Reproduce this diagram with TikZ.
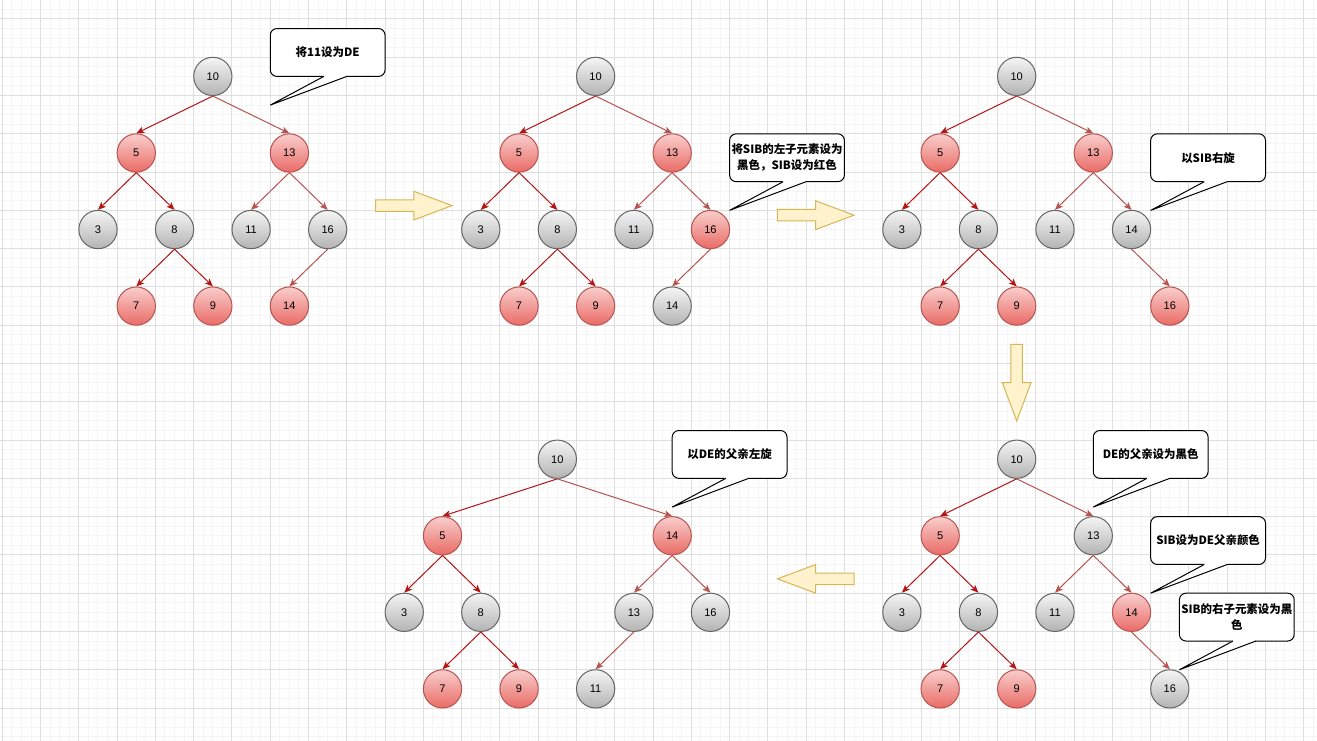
\documentclass[tikz,border=0pt]{standalone}
\usepackage{fontspec}
\setmainfont{Liberation Sans}
\newfontfamily\cjk{Noto Sans CJK SC}
\usetikzlibrary{arrows.meta}
\definecolor{redtop}{HTML}{F8CECC}
\definecolor{redbot}{HTML}{EA6B66}
\definecolor{redline}{HTML}{B85450}
\definecolor{graytop}{HTML}{F5F5F5}
\definecolor{graybot}{HTML}{B3B3B3}
\definecolor{grayline}{HTML}{666666}
\definecolor{darkedge}{RGB}{180,20,20}
\definecolor{arrfill}{HTML}{FFF2CC}
\definecolor{arrline}{HTML}{D6B656}
\definecolor{gridminor}{HTML}{F5F5F5}
\definecolor{gridmajor}{HTML}{DFDFDF}
\tikzset{
  rb/.style={circle, draw=redline, top color=redtop, bottom color=redbot, minimum size=28.7pt, inner sep=0pt, line width=0.75pt, font=\fontsize{8.3}{10}\selectfont},
  gb/.style={circle, draw=grayline, top color=graytop, bottom color=graybot, minimum size=28.7pt, inner sep=0pt, line width=0.75pt, font=\fontsize{8.3}{10}\selectfont},
  de/.style={draw=darkedge, line width=0.75pt, -{Stealth[length=6pt,width=5pt,inset=1.5pt]}},
  le/.style={draw=redline, line width=0.75pt, -{Stealth[length=6pt,width=5pt,inset=1.5pt]}},
  callbox/.style={draw=black, fill=white, line width=0.75pt, rounded corners=5pt},
  callline/.style={draw=black, line width=0.75pt},
  calltext/.style={font=\cjk\bfseries\fontsize{8.6}{11.8}\selectfont, align=center, inner sep=0pt},
  blockarrow/.style={draw=arrline, fill=arrfill, line width=0.75pt},
  minorgrid/.style={draw=gridminor, line width=0.75pt},
  majorgrid/.style={draw=gridmajor, line width=0.75pt}
}
\newcommand{\mycallout}[4]{%
  \draw[callbox] (#1,#2) rectangle ({#1+120},{#2+50});
  \fill[white] ({#1+56.5},{#2+48.5}) rectangle ({#1+79.5},{#2+51.5});
  \fill[white] ({#1+56},{#2+49.5}) -- (#1,{#2+80}) -- ({#1+80},{#2+49.5}) -- cycle;
  \coordinate (#3tip) at (#1,{#2+80});
  \draw[callline] ({#1+56},{#2+50}) -- (#3tip) -- ({#1+80},{#2+50});
  \node[calltext] (#3) at ({#1+60},{#2+25}) {#4};
}
\begin{document}
\begin{tikzpicture}[x=0.71775pt,y=-0.71775pt]
\useasboundingbox (-2.4,-19.85) rectangle (1373.8,754.45);
\fill[white] (-2.4,-19.85) rectangle (1373.8,754.45);
% grid
\foreach \i in {0,10,...,1370} \draw[minorgrid] (\i,-20) -- (\i,755);
\foreach \j in {-10,0,...,750} \draw[minorgrid] (-3,\j) -- (1374,\j);
\foreach \i in {0,40,...,1360} \draw[majorgrid] (\i,-20) -- (\i,755);
\foreach \j in {0,40,...,720} \draw[majorgrid] (-3,\j) -- (1374,\j);

% ---------- tree 1 ----------
\node[gb] (t1a) at (220,60) {10};
\node[rb] (t1b) at (140,140) {5};
\node[rb] (t1c) at (300,140) {13};
\node[gb] (t1d) at (100,220) {3};
\node[gb] (t1e) at (180,220) {8};
\node[gb] (t1f) at (260,220) {11};
\node[gb] (t1g) at (340,220) {16};
\node[rb] (t1h) at (140,300) {7};
\node[rb] (t1i) at (220,300) {9};
\node[rb] (t1j) at (300,300) {14};
\draw[de] (t1a.south) -- (t1b.north);
\draw[le] (t1a.south) -- (t1c.north);
\draw[de] (t1b.south) -- (t1d.north);
\draw[de] (t1b.south) -- (t1e.north);
\draw[le] (t1c.south) -- (t1f.north);
\draw[le] (t1c.south) -- (t1g.north);
\draw[de] (t1e.south) -- (t1h.north);
\draw[de] (t1e.south) -- (t1i.north);
\draw[le] (t1g.south) -- (t1j.north);

% ---------- tree 2 ----------
\node[gb] (t2a) at (620,60) {10};
\node[rb] (t2b) at (540,140) {5};
\node[rb] (t2c) at (700,140) {13};
\node[gb] (t2d) at (500,220) {3};
\node[gb] (t2e) at (580,220) {8};
\node[gb] (t2f) at (660,220) {11};
\node[rb] (t2g) at (740,220) {16};
\node[rb] (t2h) at (540,300) {7};
\node[rb] (t2i) at (620,300) {9};
\node[gb] (t2j) at (700,300) {14};
\draw[de] (t2a.south) -- (t2b.north);
\draw[le] (t2a.south) -- (t2c.north);
\draw[de] (t2b.south) -- (t2d.north);
\draw[de] (t2b.south) -- (t2e.north);
\draw[le] (t2c.south) -- (t2f.north);
\draw[le] (t2c.south) -- (t2g.north);
\draw[de] (t2e.south) -- (t2h.north);
\draw[de] (t2e.south) -- (t2i.north);
\draw[le] (t2g.south) -- (t2j.north);

% ---------- tree 3 ----------
\node[gb] (t3a) at (1060,60) {10};
\node[rb] (t3b) at (980,140) {5};
\node[rb] (t3c) at (1140,140) {13};
\node[gb] (t3d) at (940,220) {3};
\node[gb] (t3e) at (1020,220) {8};
\node[gb] (t3f) at (1100,220) {11};
\node[gb] (t3g) at (1180,220) {14};
\node[rb] (t3h) at (980,300) {7};
\node[rb] (t3i) at (1060,300) {9};
\node[rb] (t3j) at (1220,300) {16};
\draw[de] (t3a.south) -- (t3b.north);
\draw[le] (t3a.south) -- (t3c.north);
\draw[de] (t3b.south) -- (t3d.north);
\draw[de] (t3b.south) -- (t3e.north);
\draw[le] (t3c.south) -- (t3f.north);
\draw[le] (t3c.south) -- (t3g.north);
\draw[de] (t3e.south) -- (t3h.north);
\draw[de] (t3e.south) -- (t3i.north);
\draw[le] (t3g.south) -- (t3j.north);

% ---------- tree 4 ----------
\node[gb] (t4a) at (1060,460) {10};
\node[rb] (t4b) at (980,540) {5};
\node[gb] (t4c) at (1140,540) {13};
\node[gb] (t4d) at (940,620) {3};
\node[gb] (t4e) at (1020,620) {8};
\node[gb] (t4f) at (1100,620) {11};
\node[rb] (t4g) at (1180,620) {14};
\node[rb] (t4h) at (980,700) {7};
\node[rb] (t4i) at (1060,700) {9};
\node[gb] (t4j) at (1220,700) {16};
\draw[de] (t4a.south) -- (t4b.north);
\draw[le] (t4a.south) -- (t4c.north);
\draw[de] (t4b.south) -- (t4d.north);
\draw[de] (t4b.south) -- (t4e.north);
\draw[le] (t4c.south) -- (t4f.north);
\draw[le] (t4c.south) -- (t4g.north);
\draw[de] (t4e.south) -- (t4h.north);
\draw[de] (t4e.south) -- (t4i.north);
\draw[le] (t4g.south) -- (t4j.north);

% ---------- tree 5 ----------
\node[gb] (t5a) at (580,460) {10};
\node[rb] (t5b) at (460,540) {5};
\node[rb] (t5c) at (700,540) {14};
\node[gb] (t5d) at (420,620) {3};
\node[gb] (t5e) at (500,620) {8};
\node[gb] (t5f) at (660,620) {13};
\node[gb] (t5g) at (740,620) {16};
\node[rb] (t5h) at (460,700) {7};
\node[rb] (t5i) at (540,700) {9};
\node[gb] (t5j) at (620,700) {11};
\draw[de] (t5a.south) -- (t5b.north);
\draw[le] (t5a.south) -- (t5c.north);
\draw[de] (t5b.south) -- (t5d.north);
\draw[de] (t5b.south) -- (t5e.north);
\draw[le] (t5c.south) -- (t5f.north);
\draw[le] (t5c.south) -- (t5g.north);
\draw[de] (t5e.south) -- (t5h.north);
\draw[de] (t5e.south) -- (t5i.north);
\draw[le] (t5f.south) -- (t5j.north);

% ---------- block arrows ----------
\draw[blockarrow] (390,189) -- (430,189) -- (430,180) -- (470,195) -- (430,210) -- (430,201) -- (390,201) -- cycle;
\draw[blockarrow] (810,199) -- (850,199) -- (850,190) -- (890,205) -- (850,220) -- (850,211) -- (810,211) -- cycle;
\draw[blockarrow] (1054,340) -- (1066,340) -- (1066,380) -- (1075,380) -- (1060,420) -- (1045,380) -- (1054,380) -- cycle;
\draw[blockarrow] (890,579) -- (850,579) -- (850,570) -- (810,585) -- (850,600) -- (850,591) -- (890,591) -- cycle;

% ---------- callouts ----------
\mycallout{280}{10}{c1}{将11设为DE}
\mycallout{760}{120}{c2}{将SIB的左子元素设为\\黑色，SIB设为红色}
\mycallout{1200}{120}{c3}{以SIB右旋}
\mycallout{1140}{430}{c4}{DE的父亲设为黑色}
\mycallout{1200}{520}{c5}{SIB设为DE父亲颜色}
\mycallout{1230}{600}{c6}{SIB的右子元素设为黑\\色}
\mycallout{700}{430}{c7}{以DE的父亲左旋}
\end{tikzpicture}
\end{document}
